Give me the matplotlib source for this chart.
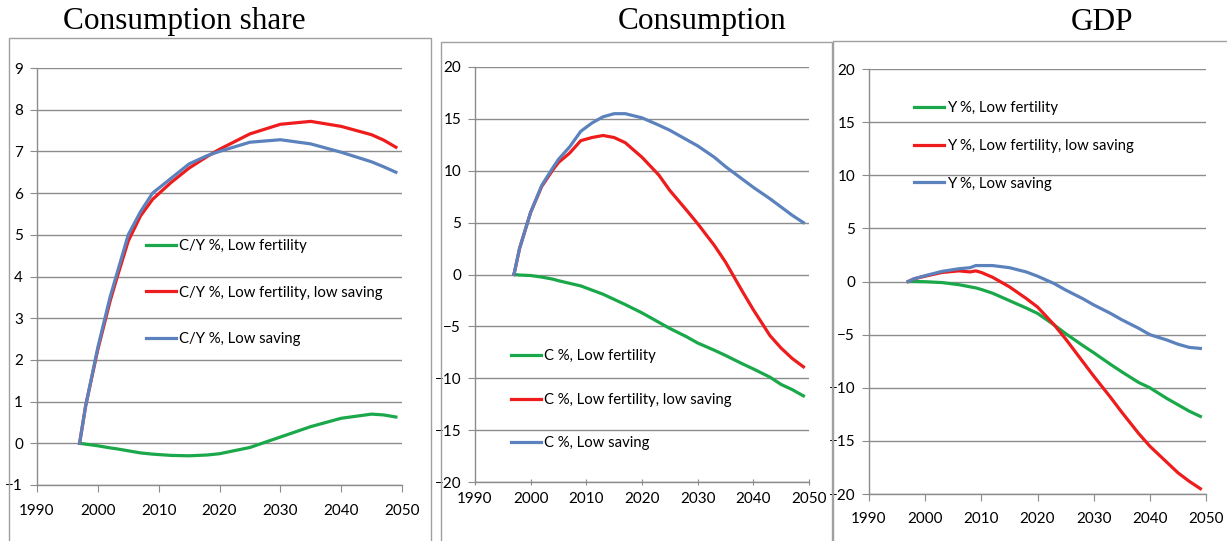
import numpy as np
import matplotlib.pyplot as plt
from matplotlib.patches import Rectangle

# ---- data ----
share_years = [1997, 1998, 2000, 2002, 2003, 2005, 2007, 2009, 2012, 2015, 2018, 2020, 2025, 2030, 2035, 2040, 2045, 2047, 2049]
share_low_fert = [0, -0.02, -0.06, -0.11, -0.13, -0.18, -0.23, -0.26, -0.29, -0.3, -0.28, -0.25, -0.1, 0.15, 0.4, 0.6, 0.7, 0.68, 0.63]
share_low_fert_sav = [0, 0.9, 2.25, 3.4, 3.9, 4.85, 5.45, 5.85, 6.25, 6.6, 6.88, 7.05, 7.42, 7.65, 7.72, 7.6, 7.4, 7.27, 7.1]
share_low_sav = [0, 0.9, 2.3, 3.5, 4.0, 5.0, 5.55, 6.0, 6.35, 6.7, 6.9, 7.0, 7.22, 7.28, 7.18, 6.98, 6.75, 6.63, 6.5]

cons_years = [1997, 1998, 2000, 2002, 2004, 2005, 2007, 2009, 2011, 2013, 2015, 2017, 2020, 2023, 2025, 2028, 2030, 2033, 2035, 2038, 2040, 2043, 2045, 2047, 2049]
cons_low_fert = [0, -0.05, -0.1, -0.25, -0.45, -0.6, -0.85, -1.1, -1.5, -1.9, -2.4, -2.9, -3.7, -4.6, -5.2, -6.0, -6.6, -7.3, -7.8, -8.6, -9.1, -9.9, -10.6, -11.1, -11.7]
cons_low_fert_sav = [0, 2.5, 6.0, 8.5, 10.1, 10.8, 11.7, 12.9, 13.2, 13.4, 13.2, 12.7, 11.3, 9.6, 8.1, 6.2, 4.9, 2.8, 1.2, -1.6, -3.4, -5.9, -7.1, -8.1, -8.9]
cons_low_sav = [0, 2.5, 6.0, 8.6, 10.3, 11.1, 12.3, 13.8, 14.6, 15.2, 15.5, 15.5, 15.1, 14.4, 13.9, 13.0, 12.4, 11.3, 10.4, 9.2, 8.4, 7.3, 6.5, 5.7, 5.0]

gdp_years = [1997, 1998, 2000, 2003, 2006, 2008, 2009, 2010, 2012, 2015, 2018, 2020, 2023, 2025, 2028, 2030, 2033, 2035, 2038, 2040, 2043, 2045, 2047, 2049]
gdp_low_fert = [0, 0, -0.02, -0.1, -0.3, -0.5, -0.6, -0.75, -1.1, -1.8, -2.5, -3.0, -4.1, -4.9, -6.0, -6.7, -7.8, -8.5, -9.5, -10.0, -11.0, -11.6, -12.2, -12.7]
gdp_low_fert_sav = [0, 0.25, 0.5, 0.85, 1.0, 0.9, 1.0, 0.85, 0.4, -0.5, -1.6, -2.4, -4.1, -5.4, -7.5, -8.9, -10.9, -12.3, -14.3, -15.5, -17.0, -18.0, -18.8, -19.5]
gdp_low_sav = [0, 0.25, 0.55, 0.95, 1.2, 1.3, 1.5, 1.5, 1.5, 1.3, 0.9, 0.5, -0.2, -0.8, -1.6, -2.2, -3.0, -3.6, -4.4, -5.0, -5.5, -5.9, -6.2, -6.3]

GREEN = '#1aa84a'
RED = '#ee1c1c'
BLUE = '#5b82bd'
GRID = '#8c8c8c'

W, H = 1227, 541
fig = plt.figure(figsize=(W / 100, H / 100), dpi=100)
plt.rcParams['font.family'] = ['Lato', 'DejaVu Sans']


def px_axes(l, r, t, b):
    return fig.add_axes([l / W, 1 - b / H, (r - l) / W, (b - t) / H])


def panel_box(l, r, t, b):
    fig.add_artist(Rectangle((l / W, 1 - b / H), (r - l) / W, (b - t) / H,
                             transform=fig.transFigure, fill=False,
                             edgecolor='#a0a0a0', lw=1.0))


def style(ax, ylim, yticks, xpad, tickdir):
    ax.set_xlim(1990, 2050)
    ax.set_ylim(*ylim)
    ax.set_xticks(np.arange(1990, 2051, 10))
    ax.set_yticks(yticks)
    for s in ['top', 'right']:
        ax.spines[s].set_visible(False)
    for s in ['left', 'bottom']:
        ax.spines[s].set_color(GRID)
        ax.spines[s].set_linewidth(1.0)
    ax.grid(axis='y', color=GRID, lw=1.0)
    ax.set_axisbelow(True)
    ax.tick_params(axis='y', length=5, color=GRID, labelsize=11, pad=5)
    ax.tick_params(axis='x', length=5, color=GRID, labelsize=11, pad=xpad, direction=tickdir)


def legend(ax, labels, lines, x, y, spacing):
    ax.legend(lines, labels, loc='upper left', bbox_to_anchor=(x / W, 1 - y / H),
              bbox_transform=fig.transFigure, frameon=False, fontsize=10.7,
              handlelength=2.05, handletextpad=0.15, labelspacing=spacing,
              borderpad=0, borderaxespad=0)


# panel frames
panel_box(9, 431, 38, 545)
panel_box(441, 832, 42, 545)
panel_box(833, 1232, 41, 545)

# titles
fig.text(184 / W, 1 - 22 / H, 'Consumption share', family='Liberation Serif', fontsize=22.5,
         ha='center', va='center')
fig.text(702 / W, 1 - 22 / H, 'Consumption', family='Liberation Serif', fontsize=22.5,
         ha='center', va='center')
fig.text(1102 / W, 1 - 22 / H, 'GDP', family='Liberation Serif', fontsize=22.5,
         ha='center', va='center')

# ---- Consumption share ----
ax1 = px_axes(37, 402, 68, 485)
l1, = ax1.plot(share_years, share_low_fert, color=GREEN, lw=2.3)
l2, = ax1.plot(share_years, share_low_fert_sav, color=RED, lw=2.3)
l3, = ax1.plot(share_years, share_low_sav, color=BLUE, lw=2.3)
style(ax1, (-1, 9), np.arange(-1, 10, 1), 9, 'out')
legend(ax1, ['C/Y %, Low fertility', 'C/Y %, Low fertility, low saving', 'C/Y %, Low saving'],
       [l1, l2, l3], 146, 239, 2.2)

# ---- Consumption ----
ax2 = px_axes(475, 809, 67, 482)
l1, = ax2.plot(cons_years, cons_low_fert, color=GREEN, lw=2.3)
l2, = ax2.plot(cons_years, cons_low_fert_sav, color=RED, lw=2.3)
l3, = ax2.plot(cons_years, cons_low_sav, color=BLUE, lw=2.3)
style(ax2, (-20, 20), np.arange(-20, 21, 5), 5, 'inout')
legend(ax2, ['C %, Low fertility', 'C %, Low fertility, low saving', 'C %, Low saving'],
       [l1, l2, l3], 511, 349, 2.0)

# ---- GDP ----
ax3 = px_axes(869, 1206, 69, 494)
l1, = ax3.plot(gdp_years, gdp_low_fert, color=GREEN, lw=2.3)
l2, = ax3.plot(gdp_years, gdp_low_fert_sav, color=RED, lw=2.3)
l3, = ax3.plot(gdp_years, gdp_low_sav, color=BLUE, lw=2.3)
style(ax3, (-20, 20), np.arange(-20, 21, 5), 8, 'out')
legend(ax3, ['Y %, Low fertility', 'Y %, Low fertility, low saving', 'Y %, Low saving'],
       [l1, l2, l3], 914, 101, 1.6)

fig.savefig('out.png', dpi=100)
